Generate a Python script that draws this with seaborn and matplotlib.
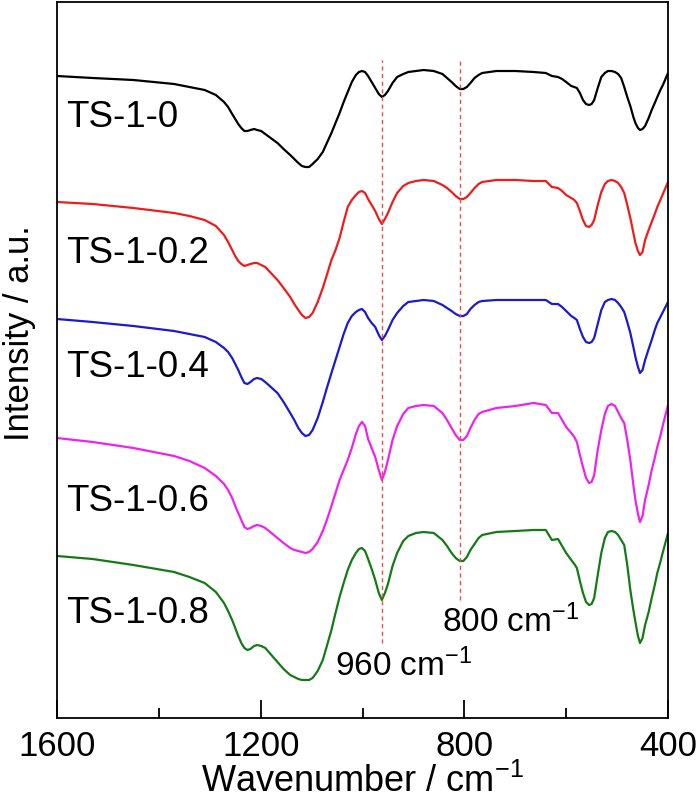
import numpy as np
import pandas as pd
import matplotlib
matplotlib.use("Agg")
import matplotlib.pyplot as plt
import seaborn as sns

# ---------------- data (FTIR spectra, intensity in a.u., stacked) ----------------
wavenumber = [1600, 1530, 1450, 1370, 1340, 1310, 1288, 1272, 1264, 1256, 1250, 1244, 1238, 1232,
              1226, 1220, 1213, 1207, 1199, 1191, 1167, 1155, 1142, 1134, 1126, 1119, 1112, 1105,
              1098, 1088, 1078, 1070, 1061, 1053, 1045, 1037, 1029, 1021, 1013, 1007, 1001, 995,
              989, 982, 975, 968, 962, 956, 950, 941, 932, 920, 910, 895, 880, 860, 843, 834,
              825, 817, 809, 802, 795, 788, 780, 772, 765, 737, 700, 664, 640, 628, 616, 608,
              600, 590, 584, 579, 573, 567, 561, 555, 550, 545, 538, 531, 524, 518, 511, 504,
              498, 492, 486, 480, 474, 468, 464, 459, 455, 450, 445, 438, 432, 426, 421, 415,
              410, 400]

ts_1_0 = [642, 640, 638, 634, 631, 628, 623, 616, 611, 604, 599, 594, 590, 587,
          587, 588, 589, 588, 587, 584, 575, 569, 563, 559, 555, 552, 551, 551,
          554, 559, 566, 575, 585, 595, 605, 616, 626, 636, 643, 646, 647, 646,
          642, 636, 630, 624, 621, 623, 627, 635, 641, 644, 646, 647, 648, 647, 644, 640,
          636, 632, 629, 629, 631, 635, 640, 643, 645, 647, 647, 646, 645, 642, 641, 639,
          636, 632, 631, 630, 625, 618, 614, 613, 614, 618, 630, 641, 645, 647, 647, 646,
          644, 640, 631, 621, 612, 601, 595, 590, 588, 589, 592, 600, 608, 615, 621, 628,
          633, 645]

ts_1_02 = [516, 514, 510, 505, 502, 498, 492, 483, 476, 468, 462, 457, 454, 452,
           453, 454, 455, 455, 453, 451, 438, 430, 421, 414, 408, 403, 400, 401,
           405, 416, 430, 443, 458, 468, 480, 496, 511, 518, 523, 526, 527, 525,
           519, 513, 507, 499, 494, 499, 505, 516, 525, 532, 535, 537, 538, 537, 533, 530,
           526, 522, 519, 519, 521, 525, 530, 534, 536, 538, 538, 537, 537, 531, 530, 527,
           523, 520, 518, 515, 507, 498, 492, 491, 493, 498, 513, 526, 534, 537, 538, 537,
           535, 531, 525, 513, 500, 485, 475, 467, 463, 466, 478, 488, 496, 504, 511, 518,
           524, 536]

ts_1_04 = [399, 396, 392, 387, 384, 381, 376, 370, 366, 360, 354, 348, 341, 335,
           334, 336, 339, 340, 339, 336, 325, 316, 305, 298, 290, 285, 282, 283,
           288, 300, 316, 330, 345, 358, 371, 384, 395, 402, 406, 408, 409, 406,
           400, 395, 391, 383, 378, 382, 388, 398, 405, 412, 416, 417, 418, 417, 413, 410,
           407, 404, 402, 402, 404, 409, 413, 416, 417, 418, 418, 418, 418, 414, 414, 411,
           407, 402, 400, 398, 389, 381, 376, 375, 376, 380, 394, 408, 416, 418, 419, 418,
           415, 411, 406, 396, 385, 371, 361, 351, 345, 348, 358, 369, 378, 388, 395, 401,
           406, 416]

ts_1_06 = [280, 276, 270, 262, 257, 250, 242, 234, 228, 220, 212, 205, 198, 191,
           189, 190, 192, 193, 192, 190, 180, 175, 170, 168, 167, 166, 165, 166,
           169, 176, 187, 198, 212, 225, 238, 248, 258, 270, 284, 292, 296, 292,
           279, 270, 261, 248, 238, 246, 258, 278, 292, 304, 310, 312, 313, 312, 305, 298,
           290, 283, 278, 278, 282, 290, 298, 304, 306, 310, 312, 315, 313, 305, 305, 298,
           291, 285, 281, 276, 263, 251, 240, 235, 236, 243, 268, 288, 304, 312, 314, 312,
           306, 300, 295, 278, 258, 233, 218, 204, 196, 202, 218, 233, 248, 260, 271, 282,
           293, 313]

ts_1_08 = [162, 159, 153, 146, 141, 135, 126, 115, 107, 98, 90, 82, 75, 70,
           68, 69, 72, 73, 72, 70, 56, 49, 43, 41, 39, 38, 38, 38,
           40, 47, 58, 72, 88, 105, 121, 135, 148, 158, 165, 169, 170, 167,
           159, 149, 138, 125, 118, 125, 134, 152, 165, 177, 182, 185, 186, 185, 178, 172,
           165, 160, 157, 157, 161, 168, 174, 180, 183, 186, 187, 188, 188, 178, 179, 172,
           165, 158, 154, 150, 137, 125, 116, 113, 114, 120, 143, 165, 180, 186, 187, 186,
           183, 178, 173, 153, 128, 108, 96, 82, 75, 80, 93, 106, 120, 133, 145, 156,
           166, 185]

samples = ["TS-1-0", "TS-1-0.2", "TS-1-0.4", "TS-1-0.6", "TS-1-0.8"]
series = [ts_1_0, ts_1_02, ts_1_04, ts_1_06, ts_1_08]
colors = ["#000000", "#ee1c1c", "#1a1ad0", "#ee22ee", "#157a15"]

marker_bands = [962, 808]
band_labels = ["960 cm$^{-1}$", "800 cm$^{-1}$"]

x_ticks = [1600, 1200, 800, 400]
x_minor = [1400, 1000, 600]

for s in series:
    assert len(s) == len(wavenumber), len(s)

# ---------------- figure ----------------
sns.set_theme(style="white")
plt.rcParams["font.family"] = ["Liberation Sans", "DejaVu Sans"]
plt.rcParams["mathtext.fontset"] = "custom"
plt.rcParams["mathtext.rm"] = "Liberation Sans"
plt.rcParams["mathtext.it"] = "Liberation Sans:italic"
plt.rcParams["mathtext.default"] = "regular"
plt.rcParams["text.color"] = "black"
plt.rcParams["axes.labelcolor"] = "black"
plt.rcParams["xtick.color"] = "black"
plt.rcParams["xtick.labelcolor"] = "black"

fig = plt.figure(figsize=(7.0, 8.02), dpi=100)
ax = fig.add_axes([57 / 700, 1 - 718 / 802, (668 - 57) / 700, (718 - 2) / 802])

rows = []
for name, vals in zip(samples, series):
    for w, v in zip(wavenumber, vals):
        rows.append({"wavenumber": w, "intensity": v, "sample": name})
df = pd.DataFrame(rows)

sns.lineplot(data=df, x="wavenumber", y="intensity", hue="sample", palette=colors,
             hue_order=samples, sort=False, estimator=None, linewidth=1.6, legend=False, ax=ax)

# dashed marker lines
ax.vlines(marker_bands[0], 75, 658, colors="#e8504a", linestyles=(0, (3, 2.5)), linewidth=1.0)
ax.vlines(marker_bands[1], 118, 658, colors="#e8504a", linestyles=(0, (3, 2.5)), linewidth=1.0)

# sample labels
label_y = [591, 455, 341, 207, 95]
for name, yy in zip(samples, label_y):
    ax.text(1583, yy, name, fontsize=26.5, va="baseline", ha="left", color="black")

ax.text(1054, 42, band_labels[0], fontsize=24, va="baseline", ha="left", color="black")
ax.text(844, 86, band_labels[1], fontsize=24, va="baseline", ha="left", color="black")

ax.set_xlim(1600, 400)
ax.set_ylim(0, 716)
ax.set_xticks(x_ticks)
ax.set_xticks(x_minor, minor=True)
ax.set_xticklabels([str(t) for t in x_ticks])
ax.set_yticks([])
ax.tick_params(axis="x", which="major", direction="in", length=13, width=1.3,
               labelsize=25, pad=9, bottom=True, top=False, color="black", labelcolor="black")
ax.tick_params(axis="x", which="minor", direction="in", length=7, width=1.3,
               bottom=True, top=False, color="black")
for sp in ax.spines.values():
    sp.set_visible(True)
    sp.set_color("black")
    sp.set_linewidth(1.3)

ax.set_xlabel("Wavenumber / cm$^{-1}$", fontsize=26, labelpad=0, color="black")
ax.set_ylabel("Intensity / a.u.", fontsize=25, color="black")
ax.yaxis.set_label_coords(-0.034, 0.538)

fig.savefig("out.png", dpi=100, facecolor="white")
